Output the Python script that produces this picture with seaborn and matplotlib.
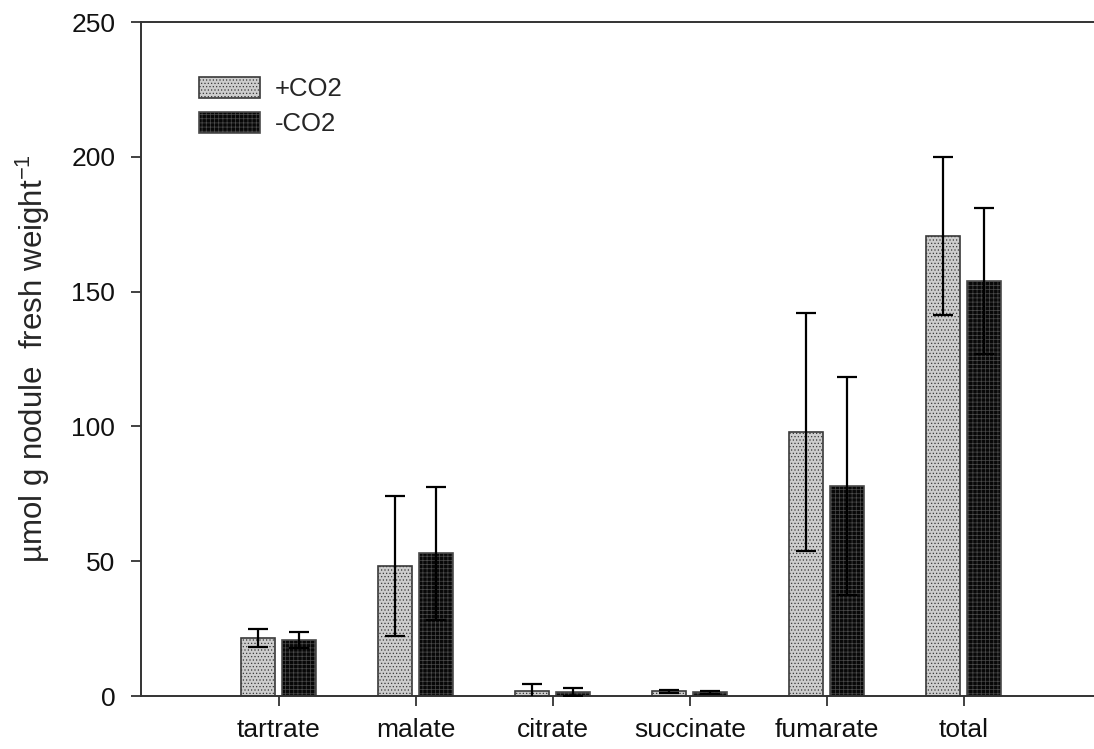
import matplotlib
matplotlib.use("Agg")
import matplotlib.pyplot as plt
import seaborn as sns
import pandas as pd
from matplotlib.patches import Patch

categories = ["tartrate", "malate", "citrate", "succinate", "fumarate", "total"]
groups = ["+CO2", "-CO2"]
plus_co2 = [21.5, 48.3, 1.8, 1.7, 98.0, 170.6]
plus_co2_sd = [3.4, 26.0, 2.6, 0.5, 44.2, 29.2]
minus_co2 = [20.8, 52.9, 1.5, 1.3, 77.9, 153.9]
minus_co2_sd = [2.9, 24.7, 1.5, 0.4, 40.3, 27.2]
yticks = [0, 50, 100, 150, 200, 250]

sns.set_theme(style="ticks")
plt.rcParams["font.family"] = ["Liberation Sans", "DejaVu Sans"]
plt.rcParams["mathtext.default"] = "regular"
plt.rcParams["hatch.linewidth"] = 0.5

df = pd.DataFrame({
    "category": categories * 2,
    "group": [groups[0]] * len(categories) + [groups[1]] * len(categories),
    "value": plus_co2 + minus_co2,
})

fig = plt.figure(figsize=(10.94, 7.49), dpi=100)
ax = fig.add_axes([141 / 1094, 1 - 696 / 749, (1094 - 141) / 1094, (696 - 22) / 749])

palette = {"+CO2": "#cdcdcd", "-CO2": "#080808"}
sns.barplot(data=df, x="category", y="value", hue="group", order=categories,
            hue_order=groups, palette=palette, width=0.6, gap=0.17,
            errorbar=None, legend=False, ax=ax, saturation=1)

styles = {
    "+CO2": dict(hatch=".....", edgecolor="#3a3a3a"),
    "-CO2": dict(hatch="++++", edgecolor="#4c4c4c"),
}
sds = {"+CO2": plus_co2_sd, "-CO2": minus_co2_sd}
means = {"+CO2": plus_co2, "-CO2": minus_co2}
for g, cont in zip(groups, ax.containers):
    xs = []
    for p in cont.patches:
        p.set_hatch(styles[g]["hatch"])
        p.set_edgecolor(styles[g]["edgecolor"])
        p.set_linewidth(1.2)
        xs.append(p.get_x() + p.get_width() / 2)
    ax.errorbar(xs, means[g], yerr=sds[g], fmt="none", ecolor="black",
                elinewidth=1.6, capsize=7, capthick=1.6, zorder=5)

handles = [Patch(facecolor=palette[g], edgecolor=styles[g]["edgecolor"],
                 hatch=styles[g]["hatch"], linewidth=1.2) for g in groups]
ax.legend(handles, groups, loc="upper left", bbox_to_anchor=(0.061, 0.918),
          frameon=False, fontsize=18.5, handlelength=2.35, handleheight=0.85,
          handletextpad=0.6, labelspacing=0.42, borderpad=0, borderaxespad=0)

ax.set_xlim(-1.006, 5.95)
ax.set_ylim(0, 250)
ax.set_yticks(yticks)
ax.set_yticklabels([str(v) for v in yticks])
ax.set_xlabel("")
ax.set_ylabel("µmol g nodule  fresh weight$^{-1}$", fontsize=22.5, labelpad=14)
ax.tick_params(axis="both", labelsize=19, direction="out", length=7.5, width=1.3,
               color="#333333", labelcolor="#111111")
ax.tick_params(axis="y", pad=11)
ax.tick_params(axis="x", pad=8)
for side in ["left", "top", "bottom"]:
    ax.spines[side].set_visible(True)
    ax.spines[side].set_linewidth(1.4)
    ax.spines[side].set_color("#333333")
ax.spines["right"].set_visible(False)
ax.set_facecolor("white")
fig.patch.set_facecolor("white")

fig.savefig("out.png", dpi=100)
